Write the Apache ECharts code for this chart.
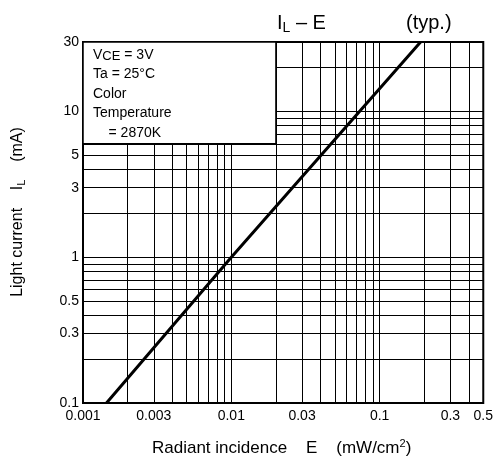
<!DOCTYPE html>
<html>
<head>
<meta charset="utf-8">
<script src="https://cdn.jsdelivr.net/npm/echarts@6/dist/echarts.min.js"></script>
<style>html,body{margin:0;padding:0;background:#fff}#c{width:496px;height:464px}</style>
</head>
<body>
<div id="c"></div>
<script>
// Data
const E_values = [0.00144, 0.01, 0.189];   // mW/cm^2
const IL_values = [0.1, 1.0, 30];           // mA
const xTickLabels = [0.001, 0.003, 0.01, 0.03, 0.1, 0.3, 0.5];
const yTickLabels = [0.1, 0.3, 0.5, 1, 3, 5, 10, 30];
const xGridValues = [0.001,0.002,0.003,0.004,0.005,0.006,0.007,0.008,0.009,
  0.01,0.02,0.03,0.04,0.05,0.06,0.07,0.08,0.09,0.1,0.2,0.3,0.4,0.5];
const yGridValues = [0.1,0.2,0.3,0.4,0.5,0.6,0.7,0.8,0.9,1,2,3,4,5,6,7,8,9,10,20,30];
const boxRange = {x: [0.001, 0.02], y: [6, 30]};
const boxText = '{t|V}{c|CE}{t| = 3V}\n{t|Ta = 25°C}\n{t|Color}\n{t|Temperature}\n{t|    = 2870K}';

const font = 'Liberation Sans, Arial, sans-serif';
const chart = echarts.init(document.getElementById('c'), null, {renderer: 'canvas'});
const fmt = v => String(+v.toPrecision(6));

chart.setOption({
  animation: false,
  backgroundColor: '#fff',
  textStyle: {fontFamily: font, color: '#000'},
  grid: {left: 83, top: 42, width: 401, height: 361, show: true,
    borderColor: '#000', borderWidth: 2, backgroundColor: '#fff'},
  xAxis: {
    type: 'log', logBase: 10, min: 0.001, max: 0.5,
    axisLine: {show: false},
    axisTick: {show: false, customValues: xGridValues},
    axisLabel: {customValues: xTickLabels, formatter: fmt, fontSize: 14, color: '#000', margin: 6, fontFamily: font},
    splitLine: {show: true, lineStyle: {color: '#000', width: 1}}
  },
  yAxis: {
    type: 'log', logBase: 10, min: 0.1, max: 30,
    axisLine: {show: false},
    axisTick: {show: false, customValues: yGridValues},
    axisLabel: {customValues: yTickLabels, formatter: fmt, fontSize: 14, color: '#000', margin: 4, fontFamily: font},
    splitLine: {show: true, lineStyle: {color: '#000', width: 1}}
  },
  graphic: [
    {type: 'text', x: 277, y: 23, z: 10, style: {
      text: '{a|I}{s|L}{a| – E}', verticalAlign: 'middle', fontFamily: font,
      rich: {a: {fontSize: 20, fontFamily: font, fill: '#000'}, s: {fontSize: 14, fontFamily: font, fill: '#000', padding: [10, 0, 0, 0]}}
    }},
    {type: 'text', x: 406, y: 23, z: 10, style: {text: '(typ.)', fontSize: 20, fontFamily: font, fill: '#000', verticalAlign: 'middle'}},
    {type: 'text', x: 18, y: 212, z: 10, rotation: Math.PI / 2, style: {
      text: '{a|Light current    I}{s|L}{a|    (mA)}', align: 'center', verticalAlign: 'middle', fontFamily: font,
      rich: {a: {fontSize: 16, fontFamily: font, fill: '#000'}, s: {fontSize: 11, fontFamily: font, fill: '#000', padding: [7, 0, 0, 0]}}
    }},
    {type: 'text', x: 152, y: 448, z: 10, style: {
      text: '{a|Radiant incidence    E    (mW/cm}{p|2}{a|)}', align: 'left', verticalAlign: 'middle', fontFamily: font,
      rich: {a: {fontSize: 17, fontFamily: font, fill: '#000'}, p: {fontSize: 11, fontFamily: font, fill: '#000', padding: [0, 0, 9, 0]}}
    }},
    {type: 'text', x: 93, y: 45, z: 10, style: {
      text: boxText, align: 'left', verticalAlign: 'top', fontFamily: font,
      rich: {
        t: {fontSize: 14, fontFamily: font, fill: '#000', lineHeight: 19.5},
        c: {fontSize: 13, fontFamily: font, fill: '#000', lineHeight: 19.5, padding: [4, 0, 0, 0]}
      }
    }}
  ],
  series: [
    {
      type: 'line', z: 3,
      data: E_values.map((e, i) => [e, IL_values[i]]),
      symbol: 'none',
      lineStyle: {color: '#000', width: 3},
      markArea: {
        silent: true,
        itemStyle: {color: '#fff', borderColor: '#000', borderWidth: 1.5},
        data: [[{coord: [boxRange.x[0], boxRange.y[1]]}, {coord: [boxRange.x[1], boxRange.y[0]]}]]
      }
    }
  ]
});
</script>
</body>
</html>
